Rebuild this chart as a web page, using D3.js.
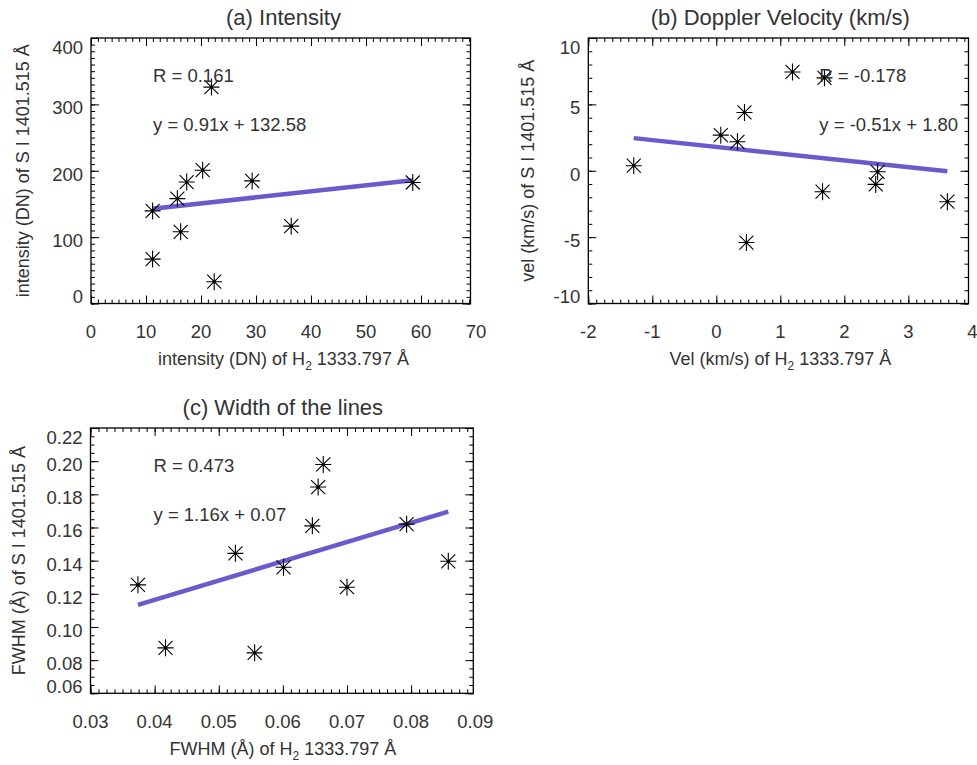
<!DOCTYPE html>
<html>
<head>
<meta charset="utf-8">
<script src="https://cdn.jsdelivr.net/npm/d3@7"></script>
<style>
  body { margin: 0; background: #fff; }
  text { font-family: "Liberation Sans", Arial, sans-serif; fill: #333; }
</style>
</head>
<body>
<div id="chart"></div>
<script>
// values
const intensityH2 = [11.2, 11.2, 15.7, 17.4, 16.3, 20.3, 21.9, 22.4, 29.3, 36.4, 58.5];
const intensitySI = [139.5, 66.9, 158, 183, 108, 200.8, 326, 32.8, 184.7, 116.5, 182.3];

const velH2 = [-1.29, 0.07, 0.33, 0.44, 0.47, 1.19, 1.69, 1.66, 2.52, 2.49, 3.61];
const velSI = [0.38, 2.68, 2.18, 4.39, -5.41, 7.44, 7.0, -1.58, -0.08, -1.03, -2.33];

const widthH2 = [0.0374, 0.0417, 0.0526, 0.0556, 0.0601, 0.0646, 0.0655, 0.0663, 0.0700, 0.0793, 0.0858];
const widthSI = [0.1254, 0.0874, 0.1444, 0.0844, 0.1360, 0.1610, 0.1844, 0.1980, 0.1240, 0.1620, 0.1396];

const fitSlopes = [0.91, -0.51, 1.16];
const fitIntercepts = [132.58, 1.80, 0.07];
const rValues = ["0.161", "-0.178", "0.473"];
const fitTexts = ["y = 0.91x + 132.58", "y = -0.51x + 1.80", "y = 1.16x + 0.07"];

const titles = ["(a) Intensity", "(b) Doppler Velocity (km/s)", "(c) Width of the lines"];
const xTitles = ["intensity (DN) of H", "Vel (km/s) of H", "FWHM (\u00c5) of H"];
const yTitles = ["intensity (DN) of S I 1401.515 \u00c5", "vel (km/s) of S I 1401.515 \u00c5", "FWHM (\u00c5) of S I 1401.515 \u00c5"];

const xTicksA = [0, 10, 20, 30, 40, 50, 60, 70];
const yTicksA = [0, 100, 200, 300, 400];
const xTicksB = [-2, -1, 0, 1, 2, 3, 4];
const yTicksB = [-10, -5, 0, 5, 10];
const xTicksC = [0.03, 0.04, 0.05, 0.06, 0.07, 0.08, 0.09];
const yTicksC = [0.06, 0.08, 0.10, 0.12, 0.14, 0.16, 0.18, 0.20, 0.22];

const svg = d3.select("#chart")
  .append("svg")
    .attr("width", 977)
    .attr("height", 765);

const panels = [
  {
    xs: intensityH2, ys: intensitySI, i: 0,
    box: { left: 91, right: 470.5, top: 38, bottom: 303.5 },
    xDomain: [0, 69], yDomain: [0, 400],
    xTicks: xTicksA, yTicks: yTicksA, xMinor: 8, yMinor: 10,
    xFmt: d => String(d), yFmt: d => String(d),
    noteX: 62, yTitleX: 23,
  },
  {
    xs: velH2, ys: velSI, i: 1,
    box: { left: 588.3, right: 968.5, top: 38, bottom: 303.5 },
    xDomain: [-2, 3.94], yDomain: [-10, 10],
    xTicks: xTicksB, yTicks: yTicksB, xMinor: 8, yMinor: 5,
    xFmt: d => String(d), yFmt: d => String(d),
    noteX: 231, yTitleX: 528,
  },
  {
    xs: widthH2, ys: widthSI, i: 2,
    box: { left: 90.5, right: 473.3, top: 428, bottom: 693.3 },
    xDomain: [0.03, 0.0897], yDomain: [0.06, 0.22],
    xTicks: xTicksC, yTicks: yTicksC, xMinor: 8, yMinor: 4,
    xFmt: d => d.toFixed(2), yFmt: d => d.toFixed(2),
    noteX: 63, yTitleX: 19,
  },
];

const starPath = "M0,-8.5V8.5M-8,0H8M-7,-7L7,7M-7,7L7,-7";

panels.forEach(p => {
  const b = p.box;
  const x = d3.scaleLinear().domain(p.xDomain).range([b.left, b.right]);
  const y = d3.scaleLinear().domain(p.yDomain).range([b.bottom, b.top]);
  const g = svg.append("g");

  // minor and major tick values inside the box
  const xStep = p.xTicks[1] - p.xTicks[0];
  const yStep = p.yTicks[1] - p.yTicks[0];
  const inside = (v, dom) => v >= dom[0] - 1e-9 && v <= dom[1] + 1e-9;
  const xMajor = p.xTicks.filter(v => inside(v, p.xDomain));
  const yMajor = p.yTicks.filter(v => inside(v, p.yDomain));
  const xMinorVals = d3.range(p.xTicks[0], p.xTicks[p.xTicks.length - 1], xStep / p.xMinor)
    .filter(v => inside(v, p.xDomain));
  const yMinorVals = d3.range(p.yTicks[0], p.yTicks[p.yTicks.length - 1], yStep / p.yMinor)
    .filter(v => inside(v, p.yDomain));

  const tickAxis = (axisFn, scale, vals, size, pos) => {
    g.append("g")
      .attr("transform", pos)
      .call(axisFn(scale).tickValues(vals).tickSize(size).tickFormat(""))
      .call(a => a.select(".domain").remove())
      .call(a => a.selectAll(".tick line").attr("stroke", "#000").attr("stroke-width", 1));
  };
  // ticks point inward on all four sides
  tickAxis(d3.axisBottom, x, xMinorVals, -4, `translate(0,${b.bottom})`);
  tickAxis(d3.axisBottom, x, xMajor, -8, `translate(0,${b.bottom})`);
  tickAxis(d3.axisTop, x, xMinorVals, -4, `translate(0,${b.top})`);
  tickAxis(d3.axisTop, x, xMajor, -8, `translate(0,${b.top})`);
  tickAxis(d3.axisLeft, y, yMinorVals, -4, `translate(${b.left},0)`);
  tickAxis(d3.axisLeft, y, yMajor, -8, `translate(${b.left},0)`);
  tickAxis(d3.axisRight, y, yMinorVals, -4, `translate(${b.right},0)`);
  tickAxis(d3.axisRight, y, yMajor, -8, `translate(${b.right},0)`);

  g.append("rect")
    .attr("x", b.left)
    .attr("y", b.top)
    .attr("width", b.right - b.left)
    .attr("height", b.bottom - b.top)
    .attr("fill", "none")
    .attr("stroke", "#000")
    .attr("stroke-width", 1.3);

  // tick labels
  g.selectAll(".xlab")
    .data(p.xTicks)
    .join("text")
      .attr("x", d => x(d))
      .attr("y", b.bottom + 28)
      .attr("dy", "0.35em")
      .attr("text-anchor", "middle")
      .attr("font-size", 18.5)
      .text(p.xFmt);

  g.selectAll(".ylab")
    .data(p.yTicks)
    .join("text")
      .attr("x", b.left - 8)
      .attr("y", d => Math.max(b.top + 9.5, Math.min(b.bottom - 6.5, y(d) + 3.5)))
      .attr("dy", "0.35em")
      .attr("text-anchor", "end")
      .attr("font-size", 18.5)
      .text(p.yFmt);

  // titles
  const cx = (b.left + x(p.xTicks[p.xTicks.length - 1])) / 2;
  g.append("text")
    .attr("x", cx)
    .attr("y", b.top - 21)
    .attr("dy", "0.35em")
    .attr("text-anchor", "middle")
    .attr("font-size", 22)
    .text(titles[p.i]);

  const xt = g.append("text")
    .attr("x", cx)
    .attr("y", b.bottom + 55)
    .attr("dy", "0.35em")
    .attr("text-anchor", "middle")
    .attr("font-size", 18);
  xt.append("tspan").text(xTitles[p.i]);
  xt.append("tspan").attr("font-size", 12).attr("dy", 5).text("2");
  xt.append("tspan").attr("dy", -5).text(" 1333.797 \u00c5");

  g.append("text")
    .attr("transform", `translate(${p.yTitleX},${(b.top + b.bottom) / 2}) rotate(-90)`)
    .attr("dy", "0.35em")
    .attr("text-anchor", "middle")
    .attr("font-size", 18)
    .text(yTitles[p.i]);

  // regression line over the data range
  const xr = d3.extent(p.xs);
  const fit = xr.map(v => [v, fitSlopes[p.i] * v + fitIntercepts[p.i]]);
  g.append("path")
    .datum(fit)
    .attr("fill", "none")
    .attr("stroke", "#6a5acd")
    .attr("stroke-width", 4.5)
    .attr("d", d3.line().x(d => x(d[0])).y(d => y(d[1])));

  // asterisk markers
  const pts = p.xs.map((v, k) => [v, p.ys[k]]);
  const stars = g.selectAll(".star")
    .data(pts)
    .join("g")
      .attr("transform", d => `translate(${x(d[0])},${y(d[1])})`);
  stars.append("path")
    .attr("d", starPath)
    .attr("stroke", "#000")
    .attr("stroke-width", 1.1)
    .attr("fill", "none");
  stars.append("circle")
    .attr("r", 1.6)
    .attr("fill", "#000");

  // annotations
  g.append("text")
    .attr("x", b.left + p.noteX)
    .attr("y", b.top + 37.7)
    .attr("dy", "0.35em")
    .attr("font-size", 18.5)
    .text(`R = ${rValues[p.i]}`);
  g.append("text")
    .attr("x", b.left + p.noteX)
    .attr("y", b.top + 87)
    .attr("dy", "0.35em")
    .attr("font-size", 18.5)
    .text(fitTexts[p.i]);
});
</script>
</body>
</html>
